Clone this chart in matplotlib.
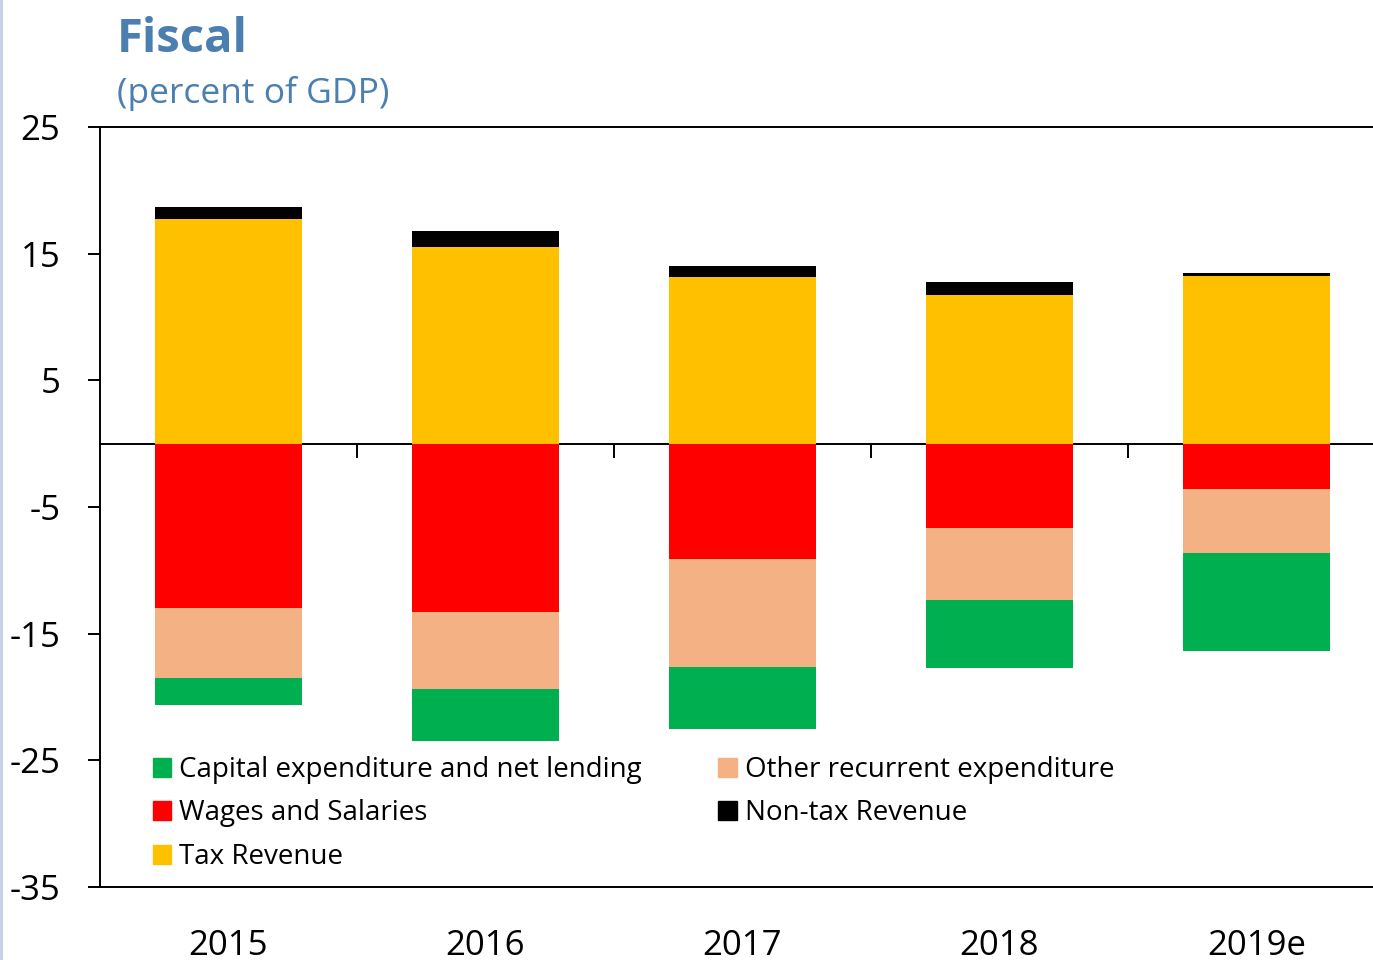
import matplotlib
matplotlib.use("Agg")
import matplotlib.pyplot as plt
from matplotlib.patches import Patch
from matplotlib.lines import Line2D

plt.rcParams["font.family"] = ["Open Sans", "DejaVu Sans"]
plt.rcParams["axes.unicode_minus"] = False

# 데이터 (GDP 대비 %)
years = ["2015", "2016", "2017", "2018", "2019e"]
tax_revenue = [17.7, 15.5, 13.15, 11.7, 13.2]
nontax_revenue = [1.0, 1.3, 0.85, 1.1, 0.27]
wages = [13.0, 13.3, 9.1, 6.65, 3.6]
other_recurrent = [5.5, 6.1, 8.5, 5.7, 5.05]
capital_exp = [2.1, 4.1, 4.9, 5.35, 7.75]

C_TAX = "#FFC000"
C_NONTAX = "#000000"
C_WAGE = "#FF0000"
C_OTHER = "#F4B183"
C_CAP = "#00B050"
TITLE_COLOR = "#4B7FAF"

fig = plt.figure(figsize=(13.73, 9.6), dpi=100)
ax = fig.add_axes([0.0728, 0.0760, 0.9359, 0.7917])

x = list(range(len(years)))
w = 0.57

# 수입 (양수)
ax.bar(x, tax_revenue, width=w, color=C_TAX, zorder=2)
ax.bar(x, nontax_revenue, width=w, bottom=tax_revenue, color=C_NONTAX, zorder=2)

# 지출 (음수)
neg_w = [-v for v in wages]
neg_o = [-v for v in other_recurrent]
neg_c = [-v for v in capital_exp]
ax.bar(x, neg_w, width=w, color=C_WAGE, zorder=2)
ax.bar(x, neg_o, width=w, bottom=neg_w, color=C_OTHER, zorder=2)
b3 = [a + b for a, b in zip(neg_w, neg_o)]
ax.bar(x, neg_c, width=w, bottom=b3, color=C_CAP, zorder=2)

ax.set_xlim(-0.5, len(years) - 0.5)
ax.set_ylim(-35, 25)
ax.set_yticks(range(-35, 26, 10))
ax.set_xticks(x)
ax.set_xticklabels(years)

lw = 1.4
for s in ["left", "top", "bottom"]:
    ax.spines[s].set_linewidth(lw)
ax.spines["right"].set_visible(False)
ax.tick_params(axis="y", direction="out", length=8.5, width=lw, pad=20, labelsize=25)
ax.tick_params(axis="x", length=0, pad=30, labelsize=25)

# 0 기준선 + 카테고리 사이 눈금
sec = ax.secondary_xaxis(35 / 60)
sec.set_xticks([i + 0.5 for i in x[:-1]])
sec.set_xticklabels([])
sec.tick_params(direction="in", length=10, width=lw)
for s in sec.spines.values():
    s.set_linewidth(lw)

handles = [
    Patch(color=C_CAP, label="Capital expenditure and net lending"),
    Patch(color=C_WAGE, label="Wages and Salaries"),
    Patch(color=C_TAX, label="Tax Revenue"),
    Patch(color=C_OTHER, label="Other recurrent expenditure"),
    Patch(color=C_NONTAX, label="Non-tax Revenue"),
]
ax.legend(handles=handles, ncol=2, loc="upper left",
          bbox_to_anchor=(0.041, 0.1725), frameon=False, fontsize=20,
          handlelength=0.66, handleheight=0.66, handletextpad=0.3,
          labelspacing=0.56, columnspacing=2.75, borderpad=0, borderaxespad=0)

fig.text(0.0852, 0.9458, "Fiscal", fontsize=34, fontweight="bold",
         color=TITLE_COLOR, va="baseline")
fig.text(0.0852, 0.8927, "(percent of GDP)", fontsize=25.5,
         color=TITLE_COLOR, va="baseline")

# 왼쪽 가장자리 테두리
fig.add_artist(Line2D([0.001, 0.001], [0, 1], color="#C5D3E3", linewidth=3,
                      transform=fig.transFigure))

fig.savefig("out.png", dpi=100)
